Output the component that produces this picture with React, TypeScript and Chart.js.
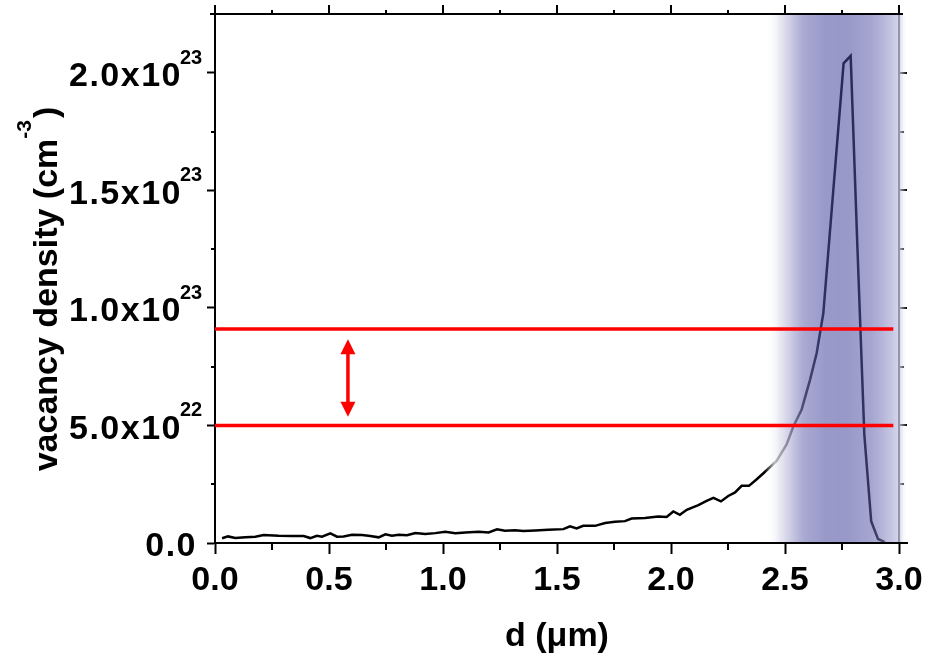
import React, { useEffect, useRef } from "react";
import { Chart, registerables } from "chart.js";

Chart.register(...registerables);

// ---- data ----
const depthUm = [
  0.031, 0.057, 0.089, 0.133, 0.177, 0.213, 0.279, 0.338, 0.389, 0.418,
  0.447, 0.469, 0.506, 0.535, 0.564, 0.601, 0.645, 0.681, 0.718, 0.747,
  0.776, 0.806, 0.842, 0.879, 0.922, 0.966, 1.01, 1.054, 1.098, 1.156,
  1.2, 1.237, 1.272, 1.316, 1.352, 1.404, 1.462, 1.528, 1.557, 1.586,
  1.615, 1.667, 1.711, 1.754, 1.798, 1.827, 1.886, 1.944, 1.981, 2.01,
  2.039, 2.069, 2.12, 2.156, 2.186, 2.219, 2.251, 2.281, 2.31, 2.342,
  2.376, 2.409, 2.463, 2.507, 2.537, 2.573, 2.61, 2.639, 2.668, 2.757,
  2.788, 2.818, 2.848, 2.878, 2.908, 2.938,
];
// vacancy density in units of 1e21 cm^-3
const vacancyE21 = [
  2.0, 2.8, 2.1, 2.4, 2.7, 3.4, 3.1, 3.0, 3.0, 2.1,
  3.1, 2.7, 4.1, 2.7, 2.8, 3.5, 3.4, 3.0, 2.4, 3.7,
  3.1, 3.5, 3.3, 4.2, 3.8, 4.2, 4.8, 4.2, 4.5, 4.8,
  4.5, 5.8, 5.2, 5.4, 5.1, 5.3, 5.6, 5.9, 7.1, 6.2,
  7.3, 7.3, 8.5, 9.0, 9.3, 10.4, 10.6, 11.3, 11.1, 13.4,
  12.0, 14.1, 16.1, 17.9, 19.2, 17.7, 20.0, 21.5, 24.3, 24.3,
  27.1, 30.0, 34.9, 41.9, 49.7, 56.8, 69.5, 80.8, 97.7, 204,
  207.2, 124.6, 46, 9.3, 1.7, 0.4,
];
const UNIT = 1e21; // y axis is plotted in units of 1e21 cm^-3
const redLevelsE21 = [91, 50];
const redRange = [0, 2.975];
const arrowX = 0.583;
const arrowRangeE21 = [86.7, 53.7];
const bandRange = [2.41, 3.035];

const X_MIN = 0;
const X_MAX = 3.0;
const X_STEP = 0.5;
const Y_MIN = 0;
const Y_MAX = 225;
const Y_STEP = 50;

const xTitle = "d (\u03bcm)";
const yTitleMain = "vacancy density (cm";
const yTitleSup = "-3";
const yTitleEnd = ")";

const FONT = '"Liberation Sans", Arial, Helvetica, sans-serif';

function setLS(ctx: any, v: string) {
  try {
    ctx.letterSpacing = v;
  } catch (e) {}
}

const decorPlugin = {
  id: "decor",
  beforeDatasetsDraw(chart: any) {
    const { ctx, chartArea: a, scales } = chart;
    const x = scales.x;
    const y = scales.y;
    ctx.save();
    ctx.strokeStyle = "#000";
    ctx.fillStyle = "#000";
    ctx.lineWidth = 2;
    // top axis line
    ctx.beginPath();
    ctx.moveTo(a.left - 5, a.top);
    ctx.lineTo(a.right + 4, a.top);
    ctx.stroke();
    // bottom axis extension
    ctx.beginPath();
    ctx.moveTo(a.right - 1, a.bottom);
    ctx.lineTo(a.right + 9, a.bottom);
    ctx.stroke();
    // right axis line
    ctx.beginPath();
    ctx.moveTo(a.right, a.top);
    ctx.lineTo(a.right, a.bottom);
    ctx.stroke();

    const xt = x.ticks.map((t: any) => t.value);
    const yt = y.ticks.map((t: any) => t.value);
    ctx.beginPath();
    for (let i = 0; i < xt.length; i++) {
      const px = Math.round(x.getPixelForValue(xt[i]));
      ctx.moveTo(px, a.top);
      ctx.lineTo(px, a.top - 9);
      if (i < xt.length - 1) {
        const pm = Math.round(x.getPixelForValue((xt[i] + xt[i + 1]) / 2));
        ctx.moveTo(pm, a.top);
        ctx.lineTo(pm, a.top - 4);
        ctx.moveTo(pm, a.bottom);
        ctx.lineTo(pm, a.bottom + 7);
      }
    }
    for (let i = 0; i < yt.length; i++) {
      const py = Math.round(y.getPixelForValue(yt[i]));
      ctx.moveTo(a.right, py);
      ctx.lineTo(a.right + 8, py);
      if (i < yt.length - 1) {
        const pm = Math.round(y.getPixelForValue((yt[i] + yt[i + 1]) / 2));
        ctx.moveTo(a.left, pm);
        ctx.lineTo(a.left - 4, pm);
        ctx.moveTo(a.right, pm);
        ctx.lineTo(a.right + 5, pm);
      }
    }
    ctx.stroke();

    // x tick labels
    ctx.font = `bold 34px ${FONT}`;
    ctx.textAlign = "center";
    ctx.textBaseline = "alphabetic";
    for (const v of xt) {
      ctx.fillText(v.toFixed(1), x.getPixelForValue(v), a.bottom + 47);
    }
    // y tick labels with superscript exponents
    for (const vs of yt) {
      const py = y.getPixelForValue(vs);
      const v = vs * UNIT;
      if (vs === 0) {
        ctx.font = `bold 34px ${FONT}`;
        setLS(ctx, "1.5px");
        ctx.textAlign = "right";
        ctx.fillText("0.0", a.left - 18, py + 13);
        setLS(ctx, "0px");
        continue;
      }
      const e = Math.floor(Math.log10(v) + 1e-9);
      const m = (v / Math.pow(10, e)).toFixed(1);
      ctx.font = `bold 34px ${FONT}`;
      setLS(ctx, "1.5px");
      ctx.textAlign = "right";
      ctx.fillText(`${m}x10`, a.left - 33, py + 13.5);
      setLS(ctx, "0px");
      ctx.font = `bold 20px ${FONT}`;
      ctx.textAlign = "left";
      ctx.fillText(String(e), a.left - 35, py - 9);
    }

    // x title
    ctx.font = `bold 34px ${FONT}`;
    ctx.textAlign = "center";
    ctx.fillText(xTitle, (a.left + a.right) / 2, a.bottom + 103);

    // y title (rotated, with superscript)
    const mainFont = `bold 34px ${FONT}`;
    const supFont = `bold 21px ${FONT}`;
    ctx.font = mainFont;
    const w1 = ctx.measureText(yTitleMain).width;
    const w3 = ctx.measureText(yTitleEnd).width;
    ctx.font = supFont;
    const w2 = ctx.measureText(yTitleSup).width + 2;
    const W = w1 + w2 + w3;
    ctx.translate(57, 289);
    ctx.rotate(-Math.PI / 2);
    ctx.textAlign = "left";
    let u = -W / 2;
    ctx.font = mainFont;
    ctx.fillText(yTitleMain, u, 0);
    u += w1;
    ctx.font = supFont;
    ctx.fillText(yTitleSup, u, -26);
    u += w2;
    ctx.font = mainFont;
    ctx.fillText(yTitleEnd, u, 0);
    ctx.restore();
  },
  afterDatasetDraw(chart: any, args: any) {
    if (args.index !== 0) return;
    const { ctx, chartArea: a, scales } = chart;
    const x0 = scales.x.getPixelForValue(bandRange[0]);
    const x1 = scales.x.getPixelForValue(bandRange[1]);
    const g = ctx.createLinearGradient(x0, 0, x1, 0);
    g.addColorStop(0, "rgba(255,255,255,0)");
    g.addColorStop(0.07, "rgba(246,246,251,0.75)");
    g.addColorStop(0.17, "rgba(190,190,220,0.7)");
    g.addColorStop(0.28, "rgba(115,115,182,0.62)");
    g.addColorStop(0.43, "rgba(80,80,162,0.58)");
    g.addColorStop(0.57, "rgba(71,71,157,0.56)");
    g.addColorStop(0.75, "rgba(95,95,172,0.56)");
    g.addColorStop(0.87, "rgba(150,150,202,0.6)");
    g.addColorStop(0.95, "rgba(205,205,232,0.75)");
    g.addColorStop(1, "rgba(255,255,255,0)");
    ctx.save();
    ctx.fillStyle = g;
    ctx.fillRect(x0, a.top + 1, x1 - x0, a.bottom - a.top - 2);
    ctx.restore();
  },
  afterDatasetsDraw(chart: any) {
    const { ctx, scales } = chart;
    const px = scales.x.getPixelForValue(arrowX);
    const yTop = scales.y.getPixelForValue(arrowRangeE21[0]);
    const yBot = scales.y.getPixelForValue(arrowRangeE21[1]);
    const hw = 7.5;
    const hl = 15;
    ctx.save();
    ctx.fillStyle = "#ff0000";
    ctx.strokeStyle = "#ff0000";
    ctx.lineWidth = 3.5;
    ctx.beginPath();
    ctx.moveTo(px, yTop + hl - 1);
    ctx.lineTo(px, yBot - hl + 1);
    ctx.stroke();
    ctx.beginPath();
    ctx.moveTo(px, yTop);
    ctx.lineTo(px - hw, yTop + hl);
    ctx.lineTo(px + hw, yTop + hl);
    ctx.closePath();
    ctx.fill();
    ctx.beginPath();
    ctx.moveTo(px, yBot);
    ctx.lineTo(px - hw, yBot - hl);
    ctx.lineTo(px + hw, yBot - hl);
    ctx.closePath();
    ctx.fill();
    ctx.restore();
  },
};

export default function App() {
  const ref = useRef<HTMLCanvasElement | null>(null);
  useEffect(() => {
    if (!ref.current) return;
    const profile = depthUm.map((d, i) => ({ x: d, y: vacancyE21[i] }));
    const redSets = redLevelsE21.map((lvl) => ({
      data: [
        { x: redRange[0], y: lvl },
        { x: redRange[1], y: lvl },
      ],
      borderColor: "#ff0000",
      borderWidth: 3.5,
      pointRadius: 0,
      order: 1,
    }));
    const chart = new Chart(ref.current, {
      type: "line",
      data: {
        datasets: [
          {
            data: profile,
            borderColor: "#000000",
            borderWidth: 2.5,
            pointRadius: 0,
            tension: 0,
            order: 2,
          },
          ...redSets,
        ] as any,
      },
      options: {
        animation: false,
        responsive: false,
        devicePixelRatio: 1,
        events: [],
        layout: { padding: { top: 14, right: 39, left: 0, bottom: 0 } },
        plugins: { legend: { display: false }, tooltip: { enabled: false } },
        scales: {
          x: {
            type: "linear",
            min: X_MIN,
            max: X_MAX,
            ticks: { stepSize: X_STEP, display: false, includeBounds: false },
            grid: {
              display: true,
              drawOnChartArea: false,
              drawTicks: true,
              tickLength: 11,
              tickWidth: 2,
              tickColor: "#000",
              color: "#000",
            },
            border: { display: true, color: "#000", width: 2 },
            afterFit: (s: any) => {
              s.height = 112;
            },
          },
          y: {
            type: "linear",
            min: Y_MIN,
            max: Y_MAX,
            ticks: { stepSize: Y_STEP, display: false, includeBounds: false },
            grid: {
              display: true,
              drawOnChartArea: false,
              drawTicks: true,
              tickLength: 8,
              tickWidth: 2,
              tickColor: "#000",
              color: "#000",
            },
            border: { display: true, color: "#000", width: 2 },
            afterFit: (s: any) => {
              s.width = 215;
            },
          },
        },
      } as any,
      plugins: [decorPlugin],
    });
    return () => chart.destroy();
  }, []);
  return (
    <div style={{ position: "absolute", left: 0, top: 0, width: 938, height: 655, background: "#fff" }}>
      <canvas ref={ref} width={938} height={655} style={{ display: "block", width: 938, height: 655 }} />
    </div>
  );
}
